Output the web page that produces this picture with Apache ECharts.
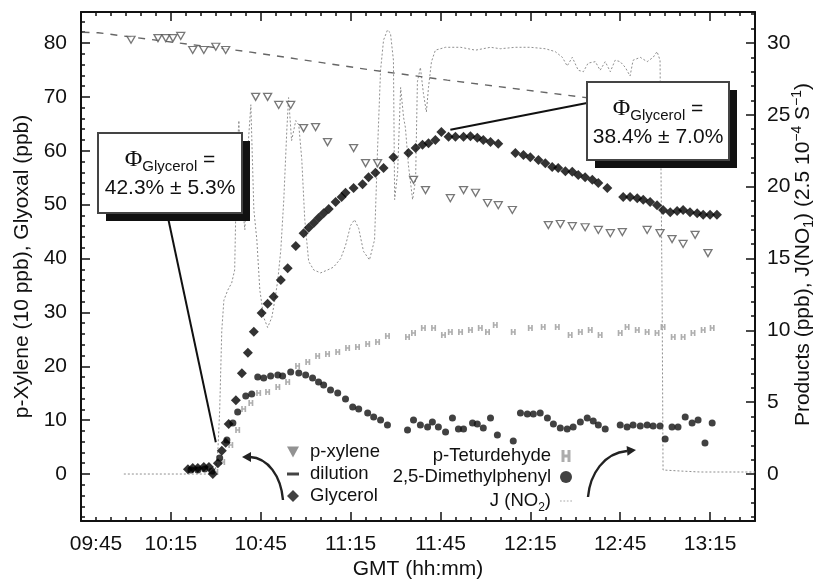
<!DOCTYPE html>
<html>
<head>
<meta charset="utf-8">
<script src="https://cdn.jsdelivr.net/npm/echarts@6/dist/echarts.min.js"></script>
<style>
html,body{margin:0;padding:0;background:#fff;}
#chart{width:818px;height:582px;}
</style>
</head>
<body>
<div id="chart"></div>
<script>
// All times are minutes after midnight (GMT).
const timeLabels = [585, 615, 645, 675, 705, 735, 765, 795];
const leftLabels = [0, 10, 20, 30, 40, 50, 60, 70, 80];
const rightLabels = [0, 5, 10, 15, 20, 25, 30];

// p-xylene (left axis, units of 10 ppb)
const pXylene = [
  [601.7,80.6],[610.7,80.9],[613.3,80.9],[615.7,80.9],[618.3,81.3],[622.3,78.7],[626.0,78.7],[630.0,79.3],
  [633.3,78.7],[643.3,70.0],[647.3,70.0],[651.0,68.5],[655.0,68.5],[659.3,64.2],[663.3,64.4],[667.3,61.6],
  [676.0,60.5],[680.0,57.7],[684.0,57.7],[696.0,54.6],[700.0,52.7],[708.3,51.2],[712.7,52.7],[716.7,52.2],
  [720.7,50.3],[724.3,49.9],[729.0,49.0],[741.0,46.2],[745.0,46.4],[749.0,46.0],[753.3,45.8],[757.7,45.3],
  [761.7,44.7],[765.7,44.9],[774.0,45.3],[778.3,44.7],[782.3,43.6],[786.0,42.7],[790.0,44.4],[794.3,41.0]
];

// dilution of p-xylene (left axis)
const dilution = [
  [585.5,82.0],[590.7,81.9],[641.7,78.3],[666.0,76.3],[681.7,75.0],[707.3,73.1],[751.7,70.0],[760.0,69.4]
];

// glyoxal / "Glycerol" (left axis, ppb)
const glycerol = [
  [620.7,0.9],[622.3,1.1],[624.0,1.1],[626.0,1.3],[627.7,1.3],[629.0,0.0],[630.7,2.0],[632.0,4.3],
  [633.3,5.8],[634.3,9.3],[636.7,13.7],[638.7,18.7],[640.7,22.5],[642.7,26.4],[645.3,29.9],[647.3,31.6],
  [649.3,32.9],[651.7,36.0],[654.0,38.2],[656.7,42.3],[659.3,44.7],[661.0,45.7],[662.7,46.6],[664.3,47.5],
  [666.0,48.4],[667.7,49.2],[670.0,50.5],[672.0,51.4],[673.3,52.2],[676.0,53.1],[679.0,53.8],[681.0,55.1],
  [683.3,55.9],[686.0,56.8],[689.3,58.8],[694.3,59.6],[696.7,60.5],[699.0,61.1],[701.0,61.4],[703.3,62.0],
  [705.3,63.5],[707.7,62.6],[710.0,62.6],[712.7,62.6],[715.0,62.7],[717.3,62.4],[719.3,62.0],[721.7,61.6],
  [724.3,61.3],[730.0,59.6],[732.7,59.2],[735.0,58.8],[737.7,58.3],[740.0,57.7],[742.3,57.0],[744.3,56.8],
  [746.7,56.2],[749.0,56.1],[751.0,55.5],[753.3,55.1],[755.7,54.6],[757.7,54.0],[760.7,53.1],[766.0,51.4],
  [768.3,51.4],[770.7,51.2],[772.7,50.9],[775.0,50.5],[777.3,49.9],[779.3,49.0],[781.7,48.6],[784.0,48.8],
  [786.0,49.0],[788.3,48.6],[790.7,48.4],[792.7,48.1],[795.0,48.1],[797.3,48.1]
];

// p-tolualdehyde (right axis, ppb)
const pTolualdehyde = [
  [630.0,0.14],[632.3,0.84],[635.0,2.02],[637.3,3.06],[639.3,4.52],[641.7,4.94],[644.3,5.64],[647.3,5.71],
  [650.7,6.06],[654.0,6.40],[657.3,7.52],[660.7,7.80],[664.0,8.21],[667.3,8.35],[670.7,8.49],[674.0,8.77],
  [677.3,8.84],[680.7,9.05],[684.0,9.19],[687.3,9.61],[694.0,9.54],[696.0,9.81],[699.3,10.16],[702.7,10.16],
  [706.0,9.67],[708.3,9.88],[711.7,9.88],[715.0,10.02],[718.3,10.16],[720.7,9.88],[723.3,10.37],[729.3,9.88],
  [735.0,10.16],[739.3,10.23],[744.0,10.23],[748.3,9.67],[751.7,9.88],[755.0,10.02],[758.3,9.67],[765.0,9.81],
  [767.3,10.23],[770.7,10.02],[774.0,9.88],[777.3,9.81],[779.3,10.23],[782.7,9.54],[786.0,9.54],[789.3,9.81],
  [792.7,10.02],[795.7,10.16]
];

// 2,5-dimethylphenol (right axis, ppb)
const dimethylphenyl = [
  [621.7,0.28],[624.0,0.28],[626.3,0.35],[628.7,0.21],[631.3,1.11],[633.7,2.37],[635.7,3.55],[637.3,4.32],
  [640.0,5.43],[642.0,5.57],[644.0,6.75],[646.0,6.68],[648.3,6.82],[650.7,6.89],[652.3,6.82],[655.0,7.10],
  [657.7,7.03],[660.0,6.89],[662.3,6.68],[664.3,6.40],[666.0,6.19],[668.3,5.85],[670.7,5.64],[673.3,5.22],
  [675.7,4.66],[677.7,4.52],[680.7,4.25],[682.7,3.97],[685.0,3.76],[687.3,3.41],[694.0,3.06],[696.0,3.76],
  [698.3,3.41],[700.7,3.27],[702.3,3.62],[704.3,3.27],[706.7,2.92],[709.0,3.90],[711.0,3.13],[712.7,3.13],
  [715.7,3.55],[717.3,3.48],[719.3,3.20],[721.7,3.90],[724.0,2.71],[729.3,2.30],[731.7,4.25],[734.0,4.18],
  [736.0,4.18],[738.3,4.25],[740.7,3.90],[742.7,3.48],[745.0,3.20],[747.3,3.13],[749.3,3.27],[751.7,3.62],
  [754.0,3.90],[756.0,3.69],[757.7,3.41],[760.0,3.13],[765.0,3.41],[767.3,3.27],[769.3,3.41],[771.7,3.34],
  [774.0,3.41],[776.0,3.34],[778.3,3.34],[780.0,2.44],[782.3,3.27],[784.3,3.27],[786.7,3.97],[789.0,3.55],
  [791.0,3.76],[793.3,2.16],[795.7,3.55]
];

// J(NO2) photolysis frequency (right axis, units of 2.5e-4 s-1)
const jNO2 = [
  [599.3,0],[629.7,0],[630.7,1.67],[631.3,4.45],[632.0,10.0],[632.7,12.1],[634.0,12.8],[635.3,13.3],
  [636.3,14.2],[637.0,21.9],[637.7,24.6],[638.7,19.1],[639.7,17.0],[640.7,22.6],[641.7,25.7],[642.7,18.4],
  [643.7,16.3],[644.7,12.8],[646.0,10.9],[647.3,10.2],[648.7,10.9],[649.7,12.1],[650.7,13.5],[651.7,15.6],
  [652.7,19.1],[653.7,23.9],[654.3,26.2],[655.3,23.2],[656.7,24.6],[657.7,24.3],[658.7,21.9],[659.7,17.7],
  [661.0,14.8],[662.7,14.2],[665.0,14.0],[667.3,14.2],[669.3,14.4],[671.7,15.0],[673.3,15.9],[675.0,17.3],
  [676.3,17.7],[677.7,17.1],[679.3,15.5],[681.3,14.9],[683.0,16.3],[684.0,22.6],[685.0,28.1],[686.0,30.2],
  [687.3,30.9],[688.3,30.7],[689.3,28.8],[689.7,19.1],[690.7,21.0],[691.7,26.9],[692.7,24.8],[693.3,24.1],
  [694.3,21.5],[695.7,19.1],[696.7,20.5],[697.3,27.3],[698.3,28.3],[699.3,26.5],[700.3,25.2],[701.0,26.9],
  [702.0,28.7],[703.3,29.5],[706.7,29.7],[711.7,29.7],[716.7,29.5],[721.7,29.7],[725.0,29.6],[730.0,29.7],
  [735.0,29.7],[740.0,29.6],[743.3,29.4],[745.7,29.0],[747.3,28.4],[749.0,29.0],[751.0,28.1],[752.7,28.0],
  [754.3,28.6],[756.7,28.7],[758.3,28.1],[760.0,28.7],[761.7,28.0],[763.3,28.8],[765.0,28.7],[766.7,28.3],
  [768.3,27.7],[769.3,28.8],[771.7,29.0],[774.0,28.7],[776.0,29.0],[777.3,29.4],[778.3,28.8],[779.0,12.1],
  [779.3,0.28],[785.0,0.21],[791.7,0.14],[798.3,0.14],[810.0,0.14]
];

const FONT = '"Liberation Sans", Arial, Helvetica, sans-serif';
const SERIF = '"Liberation Serif", "DejaVu Serif", serif';
const INK = '#111';
const AXIS_FONT = 21;

// axis extents: right axis 0..30 spans the same height as left 0..80
const X_MIN = 585, X_MAX = 810;
const L_MIN = -8.72, L_MAX = 85.75;
const R_RATIO = 30 / 80;
const R_MIN = L_MIN * R_RATIO, R_MAX = L_MAX * R_RATIO;

function steps(a, b, s) {
  const out = [];
  for (let v = a; v <= b + 1e-9; v += s) out.push(+v.toFixed(3));
  return out;
}
const xMinorTicks = steps(590, 805, 5);
const leftMinorTicks = steps(-8, 84, 2);
const rightMinorTicks = steps(-3, 32, 1);

function hhmm(v) {
  const h = Math.floor(v / 60), m = Math.round(v - h * 60);
  return String(h).padStart(2, '0') + ':' + String(m).padStart(2, '0');
}

const frameLine = { show: true, onZero: false, lineStyle: { color: INK, width: 2 } };
const hiddenLine = { show: false, onZero: false };
const tickStyle = { color: INK, width: 1.5 };
const labelStyle = { fontSize: AXIS_FONT, color: INK, fontFamily: FONT };

function xAx(pos, major, extra) {
  return Object.assign({
    type: 'value', min: X_MIN, max: X_MAX, position: pos,
    splitLine: { show: false },
    axisLine: major ? frameLine : hiddenLine,
    axisTick: { inside: true, length: major ? 9 : 4, lineStyle: tickStyle,
                customValues: major ? timeLabels : xMinorTicks },
    axisLabel: { show: false }
  }, extra || {});
}
function yAx(pos, major, lo, hi, labels, minors, extra) {
  return Object.assign({
    type: 'value', min: lo, max: hi, position: pos,
    splitLine: { show: false },
    axisLine: major ? frameLine : hiddenLine,
    axisTick: { inside: true, length: major ? 9 : 4, lineStyle: tickStyle,
                customValues: major ? labels : minors },
    axisLabel: { show: false }
  }, extra || {});
}

const chart = echarts.init(document.getElementById('chart'), null, { renderer: 'canvas' });

const option = {
  animation: false,
  backgroundColor: '#fff',
  grid: { left: 81, right: 63, top: 12, bottom: 61, containLabel: false, outerBoundsMode: 'none' },
  xAxis: [
    xAx('bottom', true, {
      axisLabel: Object.assign({
        show: true, customValues: timeLabels, margin: 13,
        // the first label sits a little inside the frame
        formatter: v => (v === X_MIN ? '{first|' + hhmm(v) + '}' : hhmm(v)),
        rich: { first: { fontSize: AXIS_FONT, color: INK, fontFamily: FONT, padding: [0, 0, 0, 30] } }
      }, labelStyle),
      name: 'GMT (hh:mm)', nameLocation: 'middle', nameGap: 38, nameMoveOverlap: false,
      nameTextStyle: { fontSize: AXIS_FONT, color: INK, fontFamily: FONT }
    }),
    xAx('bottom', false),
    xAx('top', true),
    xAx('top', false)
  ],
  yAxis: [
    yAx('left', true, L_MIN, L_MAX, leftLabels, leftMinorTicks, {
      axisLabel: Object.assign({ show: true, customValues: leftLabels, margin: 14 }, labelStyle),
      name: 'p-Xylene (10 ppb), Glyoxal (ppb)', nameLocation: 'middle', nameGap: 48, nameMoveOverlap: false,
      nameTextStyle: { fontSize: AXIS_FONT, color: INK, fontFamily: FONT }
    }),
    yAx('right', true, R_MIN, R_MAX, rightLabels, rightMinorTicks, {
      axisLabel: Object.assign({ show: true, customValues: rightLabels, margin: 12 }, labelStyle),
      name: 'Products (ppb), J(NO{sub|1}) (2.5 10{sup|\u22124} S{sup|\u22121})',
      nameLocation: 'middle', nameGap: 35, nameMoveOverlap: false,
      nameTextStyle: {
        fontSize: AXIS_FONT, color: INK, fontFamily: FONT, lineHeight: 26,
        // extra space at the start nudges the title toward the top of the axis
        padding: [0, 0, 0, 24],
        rich: {
          sub: { fontSize: 14, fontFamily: FONT, color: INK, verticalAlign: 'bottom', lineHeight: 26 },
          sup: { fontSize: 14, fontFamily: FONT, color: INK, verticalAlign: 'top', lineHeight: 26 }
        }
      }
    }),
    yAx('left', false, L_MIN, L_MAX, leftLabels, leftMinorTicks),
    yAx('right', false, R_MIN, R_MAX, rightLabels, rightMinorTicks)
  ],
  legend: [
    {
      orient: 'vertical', left: 287, top: 442, padding: 0, itemGap: 2,
      itemWidth: 12, itemHeight: 12, selectedMode: false,
      textStyle: { fontSize: 18.5, color: INK, fontFamily: FONT, lineHeight: 20, padding: [0, 0, 0, 6] },
      data: [
        { name: 'p-xylene', icon: 'path://M0,0L10,0L5,9Z', itemStyle: { color: '#777', borderWidth: 0 } },
        { name: 'dilution', icon: 'path://M0,0H8V2H0Z', itemStyle: { color: '#444', borderWidth: 0 } },
        { name: 'Glycerol', icon: 'diamond', itemStyle: { color: INK, borderWidth: 0 } }
      ]
    },
    {
      orient: 'vertical', right: 246, top: 446, padding: 0, itemGap: 1, align: 'right',
      itemWidth: 12, itemHeight: 12, selectedMode: false,
      textStyle: {
        fontSize: 18.5, color: INK, fontFamily: FONT, lineHeight: 20, padding: [0, 4, 0, 0],
        rich: { sub: { fontSize: 12, fontFamily: FONT, color: INK, verticalAlign: 'bottom', lineHeight: 26 } }
      },
      formatter: name => (name === 'J (NO2)' ? 'J (NO{sub|2})' : name),
      data: [
        { name: 'p-Teturdehyde', icon: 'path://M0,0H2V8H0Z M4,0H6V8H4Z M0,3H6V5H0Z', itemStyle: { color: '#999', borderWidth: 0 } },
        { name: '2,5-Dimethylphenyl', icon: 'circle', itemStyle: { color: INK, borderWidth: 0 } },
        { name: 'J (NO2)', icon: 'path://M0,0H2V1H0Z M4,0H6V1H4Z M8,0H10V1H8Z M12,0H14V1H12Z', itemStyle: { color: '#aaa', borderWidth: 0 } }
      ]
    }
  ],
  series: [
    {
      name: 'J (NO2)', type: 'line', xAxisIndex: 0, yAxisIndex: 1, data: jNO2,
      showSymbol: false, z: 1,
      lineStyle: { color: '#8f8f8f', width: 1, type: [2, 2] }, itemStyle: { color: '#aaa' }
    },
    {
      name: 'dilution', type: 'line', xAxisIndex: 0, yAxisIndex: 0, data: dilution,
      showSymbol: false, z: 2,
      lineStyle: { color: '#666', width: 1.4, type: [7, 7] }, itemStyle: { color: '#444' }
    },
    {
      name: 'p-xylene', type: 'scatter', xAxisIndex: 0, yAxisIndex: 0, data: pXylene,
      symbol: 'triangle', symbolRotate: 180, symbolSize: [8, 7], z: 3,
      itemStyle: { color: '#fff', borderColor: '#555', borderWidth: 1.3 }
    },
    {
      name: 'p-Teturdehyde', type: 'scatter', xAxisIndex: 0, yAxisIndex: 1, data: pTolualdehyde,
      symbol: 'path://M0,0H2V8H0Z M4,0H6V8H4Z M0,3H6V5H0Z', symbolSize: [5, 6], z: 3,
      itemStyle: { color: '#9a9a9a' }
    },
    {
      name: '2,5-Dimethylphenyl', type: 'scatter', xAxisIndex: 0, yAxisIndex: 1, data: dimethylphenyl,
      symbol: 'circle', symbolSize: 7, z: 4,
      itemStyle: { color: INK }
    },
    {
      name: 'Glycerol', type: 'scatter', xAxisIndex: 0, yAxisIndex: 0, data: glycerol,
      symbol: 'diamond', symbolSize: 10, z: 4,
      itemStyle: { color: '#000' }
    }
  ]
};

chart.setOption(option);

// annotation boxes with pointers to the glyoxal curve
function px(t, v) { return chart.convertToPixel({ xAxisIndex: 0, yAxisIndex: 0 }, [t, v]); }
const leftTip = px(630.0, 5.9);
const rightTip = px(708.3, 63.9);

const boxRich = {
  phi: { font: '24px ' + SERIF, fill: INK, verticalAlign: 'middle', lineHeight: 28 },
  sub: { font: '15px ' + FONT, fill: INK, verticalAlign: 'bottom', lineHeight: 28 },
  eq: { font: '21px ' + FONT, fill: INK, verticalAlign: 'middle', lineHeight: 28 }
};

function phiBox(x, y, w, h, value) {
  return [
    { type: 'rect', z: 100, shape: { x: x + 8, y: y + 8, width: w, height: h }, style: { fill: '#111' } },
    { type: 'rect', z: 101, shape: { x: x, y: y, width: w, height: h }, style: { fill: '#fff', stroke: '#444', lineWidth: 2 } },
    { type: 'text', z: 102, x: x + w / 2, y: y + 27,
      style: { text: '{phi|\u03A6}{sub|Glycerol}{eq| =}', align: 'center', verticalAlign: 'middle', rich: boxRich } },
    { type: 'text', z: 102, x: x + w / 2, y: y + 55,
      style: { text: value, font: '21px ' + FONT, fill: INK, align: 'center', verticalAlign: 'middle' } }
  ];
}

function arrowHead(tip, from, size) {
  const dx = tip[0] - from[0], dy = tip[1] - from[1];
  const len = Math.hypot(dx, dy) || 1;
  const ux = dx / len, uy = dy / len;
  const bx = tip[0] - ux * size, by = tip[1] - uy * size;
  return [[tip[0], tip[1]], [bx - uy * size * 0.55, by + ux * size * 0.55], [bx + uy * size * 0.55, by - ux * size * 0.55]];
}

const graphics = []
  .concat([
    { type: 'line', z: 99, shape: { x1: 167, y1: 213, x2: leftTip[0], y2: leftTip[1] }, style: { stroke: INK, lineWidth: 2 } },
    { type: 'line', z: 99, shape: { x1: 587, y1: 103, x2: rightTip[0], y2: rightTip[1] }, style: { stroke: INK, lineWidth: 2 } }
  ])
  .concat(phiBox(98, 133, 144, 80, '42.3% \u00B1 5.3%'))
  .concat(phiBox(587, 82, 142, 78, '38.4% \u00B1 7.0%'))
  .concat([
    { type: 'bezierCurve', z: 99,
      shape: { x1: 283, y1: 500, cpx1: 281, cpy1: 476, cpx2: 268, cpy2: 458, x2: 250, y2: 457 },
      style: { stroke: '#222', lineWidth: 2.4, fill: null } },
    { type: 'polygon', z: 99, shape: { points: arrowHead([242, 457], [252, 457], 9) }, style: { fill: '#222' } },
    { type: 'bezierCurve', z: 99,
      shape: { x1: 588, y1: 497, cpx1: 590, cpy1: 474, cpx2: 604, cpy2: 453, x2: 627, y2: 451 },
      style: { stroke: '#222', lineWidth: 2.4, fill: null } },
    { type: 'polygon', z: 99, shape: { points: arrowHead([636, 450], [625, 451], 9) }, style: { fill: '#222' } }
  ]);

chart.setOption({ graphic: { elements: graphics } });
</script>
</body>
</html>
